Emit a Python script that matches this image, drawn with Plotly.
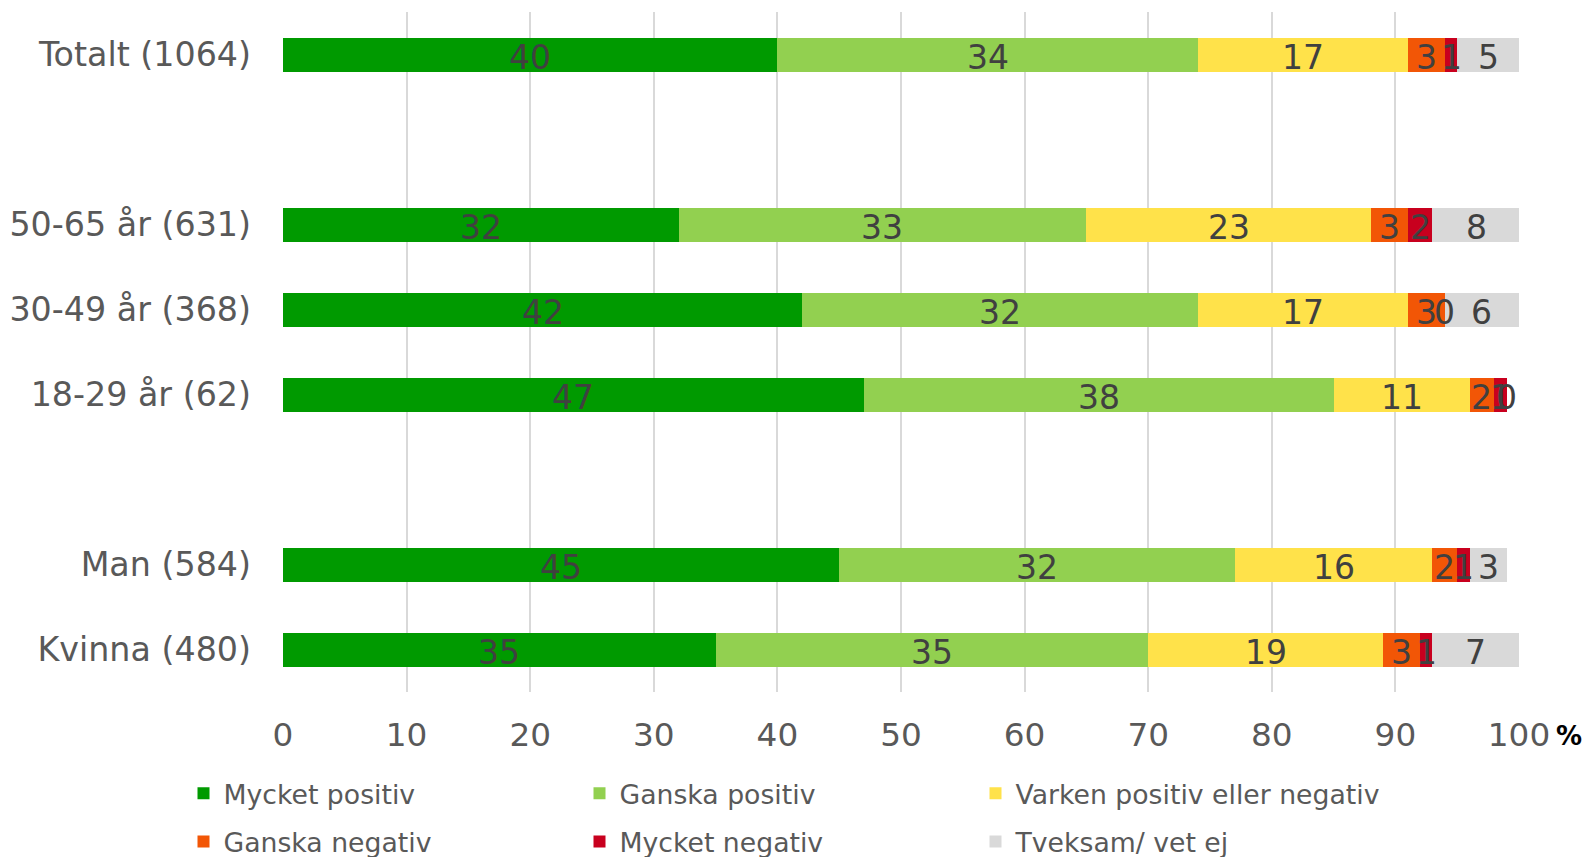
import numpy as np
import plotly.graph_objects as go

# ---- data ----
rows = ["Totalt (1064)", "50-65 år (631)", "30-49 år (368)", "18-29 år (62)", "Man (584)", "Kvinna (480)"]
category_order = ["Totalt (1064)", " ", "50-65 år (631)", "30-49 år (368)", "18-29 år (62)", "  ", "Man (584)", "Kvinna (480)"]

series_names = ["Mycket positiv", "Ganska positiv", "Varken positiv eller negativ",
                "Ganska negativ", "Mycket negativ", "Tveksam/ vet ej"]

mycket_positiv = [40, 32, 42, 47, 45, 35]
ganska_positiv = [34, 33, 32, 38, 32, 35]
varken = [17, 23, 17, 11, 16, 19]
ganska_negativ = [3, 3, 3, 2, 2, 3]
mycket_negativ = [1, 2, 0, 1, 1, 1]
tveksam = [5, 7.2, 6, 0, 3, 7]
tveksam_labels = ["5", "8", "6", "0", "3", "7"]

colors = ["#009A00", "#92D050", "#FFE24A", "#F25606", "#C8001E", "#D9D9D9"]

series_values = [mycket_positiv, ganska_positiv, varken, ganska_negativ, mycket_negativ, tveksam]
series_labels = [[str(round(v)) for v in s] for s in series_values[:-1]] + [tveksam_labels]

FONT = "DejaVu Sans"

# legend layout: row 1 / row 2, columns 1-2 share a legend, column 3 gets its own
legend_ids = ["legend", "legend", "legend3", "legend2", "legend2", "legend4"]

fig = go.Figure()

for name, vals, col, lid in zip(series_names, series_values, colors, legend_ids):
    fig.add_trace(go.Bar(
        y=rows, x=vals, orientation="h", name=name,
        marker=dict(color=col, line=dict(width=0)),
        legend=lid, hoverinfo="skip",
    ))

# labels on top of all bars, centred in each segment
arr = np.array(series_values, dtype=float)
starts = np.vstack([np.zeros(arr.shape[1]), np.cumsum(arr, axis=0)[:-1]])
centers = starts + arr / 2
annotations = []
for i in range(arr.shape[0]):
    for j, r in enumerate(rows):
        annotations.append(dict(
            x=centers[i, j], y=r, xref="x", yref="y", text=series_labels[i][j],
            showarrow=False, xanchor="center", yanchor="middle", yshift=-3,
            font=dict(size=33, color="#404040", family=FONT),
        ))

annotations.append(dict(
    text="<b>%</b>", x=1.0405, y=-0.0654, xref="paper", yref="paper",
    showarrow=False, font=dict(size=26, color="black", family=FONT),
    xanchor="center", yanchor="middle",
))

COL_STEP = 396 / 1236  # paper units between legend columns
LX = -0.0805
legend_common = dict(
    orientation="h", xanchor="left", yanchor="middle",
    font=dict(size=26.7, color="#595959", family=FONT),
    bgcolor="rgba(0,0,0,0)", traceorder="normal",
)

fig.update_layout(
    width=1587, height=857,
    margin=dict(l=283, r=68, t=12, b=165, autoexpand=False),
    paper_bgcolor="white", plot_bgcolor="white",
    barmode="stack", bargap=0.6,
    font=dict(family=FONT, color="#595959"),
    showlegend=True,
    legend=dict(x=LX, y=-0.149, entrywidth=351, entrywidthmode="pixels", **legend_common),
    legend2=dict(x=LX, y=-0.220, entrywidth=351, entrywidthmode="pixels", **legend_common),
    legend3=dict(x=LX + 2 * COL_STEP, y=-0.149, **legend_common),
    legend4=dict(x=LX + 2 * COL_STEP, y=-0.220, **legend_common),
    xaxis=dict(
        range=[0, 100], tickmode="array", tickvals=list(range(0, 101, 10)),
        showgrid=True, gridcolor="#D9D9D9", gridwidth=2, zeroline=False,
        showline=False, ticks="", tickfont=dict(size=32.7, color="#595959", family=FONT),
        ticklabelstandoff=20, fixedrange=True,
    ),
    yaxis=dict(
        type="category", categoryorder="array", categoryarray=category_order,
        range=[7.5, -0.5], showgrid=False, zeroline=False, showline=False,
        ticks="", tickfont=dict(size=33.3, color="#595959", family=FONT),
        ticklabelstandoff=31, fixedrange=True,
    ),
    annotations=annotations,
)

fig.write_html(
    "out.html",
    config={"displayModeBar": False},
    post_script="document.body.style.margin='0';document.body.style.overflow='hidden';",
)
